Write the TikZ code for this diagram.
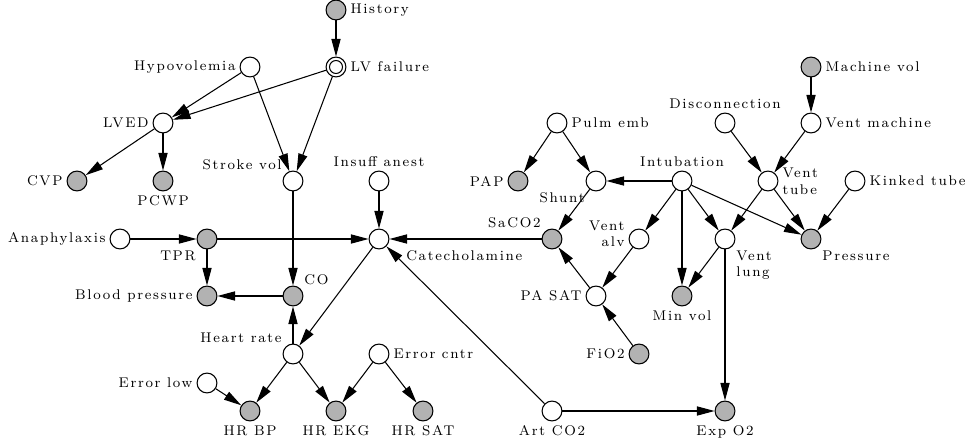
\documentclass[tikz,border=0pt]{standalone}
\usepackage{fontspec}
\usetikzlibrary{arrows.meta, positioning}

\newfontfamily\spacedlm{Latin Modern Roman}[LetterSpace=12]
\newcommand{\lblfont}{\footnotesize\spacedlm}

\tikzset{
  var/.style={circle, draw, fill=white, minimum size=11.3pt, inner sep=0pt, line width=0.6pt},
  obs/.style={var, fill=black!30},
  dbl/.style={var, path picture={\draw[line width=0.6pt] (path picture bounding box.center) circle (3.7pt);}},
  every label/.style={font=\lblfont, inner sep=2pt},
}

\begin{document}
\begin{tikzpicture}[x=0.02cm, y=-0.02cm, line width=0.6pt, >={Triangle[length=10pt,width=5.2pt]}]
    \useasboundingbox (0,0) rectangle (969,442);

    % --- Heart branch (left) ---
    \node[obs, label=right:History]          (hist)  at (336,10)  {};
    \node[dbl, label=right:LV failure]       (lvf)   at (336,67)  {};
    \node[var, label=left:Hypovolemia]       (hypo)  at (250,67)  {};
    \node[var, label=left:LVED]              (lved)  at (163,123) {};
    \node[obs, label=left:CVP]               (cvp)   at (77,181)  {};
    \node[obs, label=below:PCWP]             (pcwp)  at (163,181) {};
    \node[var, label=above left:Stroke vol]  (svol)  at (293,181) {};
    \node[var, label=above:Insuff anest]     (insuf) at (379,181) {};

    % --- Circulation ---
    \node[var, label=left:Anaphylaxis]       (anaph) at (120,239) {};
    \node[obs, label=below left:TPR]         (tpr)   at (207,239) {};
    \node[var, label={[xshift=9pt]below right:Catecholamine}] (cath) at (379,239) {};
    \node[obs, label=left:Blood pressure]    (bp)    at (207,296) {};
    \node[obs, label=above right:CO]         (co)    at (293,296) {};
    \node[var, label=above left:Heart rate]  (hr)    at (293,354) {};
    \node[var, label=right:Error cntr]       (ecau)  at (379,354) {};
    \node[var, label=left:Error low]         (elow)  at (207,383) {};
    \node[obs, label=below:HR BP]            (hrbp)  at (250,411) {};
    \node[obs, label=below:HR EKG]           (hrekg) at (336,411) {};
    \node[obs, label=below:HR SAT]           (hrsat) at (423,411) {};

    % --- Lungs and ventilation (right) ---
    \node[var, label=right:Pulm emb]         (pemb)  at (557,123) {};
    \node[obs, label=left:PAP]               (pap)   at (518,181) {};
    \node[var, label=below left:Shunt]       (shunt) at (596,181) {};
    \node[var, label=above:Intubation]       (intub) at (682,181) {};
    \node[var, label=above:Disconnection]    (disc)  at (725,123) {};
    \node[var, label=right:Vent machine]     (vmach) at (811,123) {};
    \node[obs, label=right:Machine vol]      (mvol)  at (811,67)  {};
    \node[var, label={[align=left]right:{Vent\\tube}}] (vtub) at (768,181) {};
    \node[var, label=right:Kinked tube]      (kink)  at (855,181) {};
    \node[obs, label=above left:SaCO2]       (saco)  at (552,239) {};
    \node[var, label={[align=right, yshift=3pt]left:{Vent\\alv}}] (valv) at (639,239) {};
    \node[var, label={[align=left]below right:{Vent\\lung}}] (vlng) at (725,239) {};
    \node[obs, label=below right:Pressure]   (press) at (811,239) {};
    \node[var, label=left:PA SAT]            (pasat) at (596,296) {};
    \node[obs, label=below:Min vol]          (minv)  at (682,296) {};
    \node[obs, label=left:FiO2]              (fio)   at (639,354) {};
    \node[var, label=below:Art CO2]          (aco)   at (552,411) {};
    \node[obs, label=below:Exp O2]           (expo)  at (725,411) {};

    % --- Arcs: heart ---
    \draw[->] (hist) -- (lvf);
    \draw[->] (hypo) -- (lved);
    \draw[->] (lvf) -- (lved);
    \draw[->] (hypo) -- (svol);
    \draw[->] (lvf) -- (svol);
    \draw[->] (lved) -- (cvp);
    \draw[->] (lved) -- (pcwp);
    \draw[->] (svol) -- (co);

    % --- Arcs: circulation ---
    \draw[->] (insuf) -- (cath);
    \draw[->] (anaph) -- (tpr);
    \draw[->] (tpr) -- (cath);
    \draw[->] (tpr) -- (bp);
    \draw[->] (co) -- (bp);
    \draw[->] (hr) -- (co);
    \draw[->] (cath) -- (hr);
    \draw[->] (saco) -- (cath);
    \draw[->] (aco) -- (cath);
    \draw[->] (hr) -- (hrbp);
    \draw[->] (hr) -- (hrekg);
    \draw[->] (elow) -- (hrbp);
    \draw[->] (ecau) -- (hrekg);
    \draw[->] (ecau) -- (hrsat);

    % --- Arcs: lungs and ventilation ---
    \draw[->] (pemb) -- (pap);
    \draw[->] (pemb) -- (shunt);
    \draw[->] (intub) -- (shunt);
    \draw[->] (shunt) -- (saco);
    \draw[->] (pasat) -- (saco);
    \draw[->] (valv) -- (pasat);
    \draw[->] (fio) -- (pasat);
    \draw[->] (intub) -- (valv);
    \draw[->] (intub) -- (minv);
    \draw[->] (intub) -- (vlng);
    \draw[->] (intub) -- (press);
    \draw[->] (vtub) -- (vlng);
    \draw[->] (vtub) -- (press);
    \draw[->] (kink) -- (press);
    \draw[->] (disc) -- (vtub);
    \draw[->] (vmach) -- (vtub);
    \draw[->] (mvol) -- (vmach);
    \draw[->] (vlng) -- (minv);
    \draw[->] (vlng) -- (expo);
    \draw[->] (aco) -- (expo);

\end{tikzpicture}
\end{document}
